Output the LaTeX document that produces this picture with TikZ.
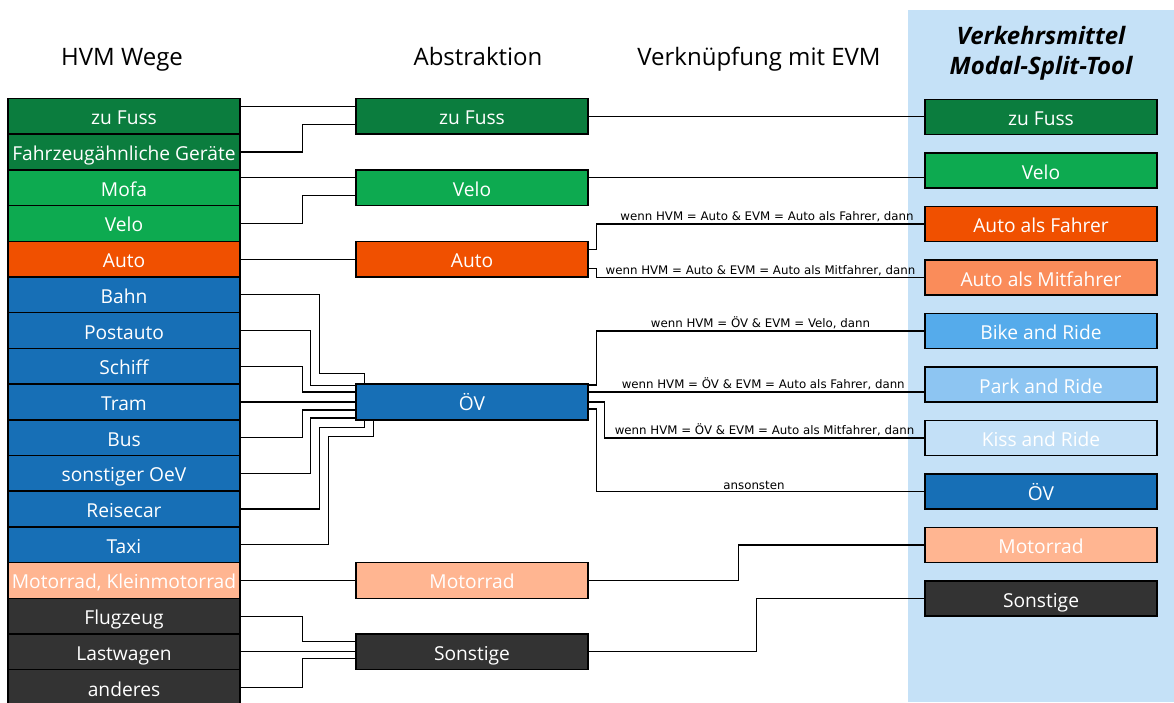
\documentclass[tikz,border=0pt]{standalone}
\usepackage{fontspec}
\setmainfont{Open Sans}
\newfontfamily\condfont{DejaVu Sans}
\usetikzlibrary{calc}
\definecolor{fussgr}{HTML}{0B7D3E}
\definecolor{velogr}{HTML}{0DAA50}
\definecolor{autoor}{HTML}{F05000}
\definecolor{mitfor}{HTML}{FA8C5A}
\definecolor{oevbl}{HTML}{176FB6}
\definecolor{bikebl}{HTML}{55ABEB}
\definecolor{parkbl}{HTML}{8DC5F2}
\definecolor{kissbl}{HTML}{C3E0F7}
\definecolor{motorr}{HTML}{FFB591}
\definecolor{sonstgr}{HTML}{333333}
\definecolor{panel}{HTML}{C5E1F7}
\tikzset{box/.style={draw,line width=1.5pt,minimum width=232pt,minimum height=35.7pt,inner sep=0pt,text=white,text height=17pt,text depth=0pt,font=\fontsize{19.2}{22}\selectfont},
         evm/.style={box,minimum height=35pt},
         head/.style={anchor=base,font=\fontsize{24}{28}\selectfont},
         title/.style={font=\fontsize{24}{30}\selectfont\bfseries\itshape,align=center},
         cond/.style={above,inner sep=1.5pt,font=\condfont\fontsize{11.8}{13}\selectfont},
         link/.style={line width=1.2pt},
        }

\begin{document}
\begin{tikzpicture}[x=1pt,y=-1pt]
        \useasboundingbox(0,0)rectangle(1174,702);
        \fill[panel](908,10)rectangle(1174,702);

        \node[head](t1)at(122,65.5){HVM Wege};
        \node[head](t2)at(478,65.5){Abstraktion};
        \node[head](t3)at(759,65.5){Verknüpfung mit EVM};
        \node[title](t4)at(1041,53){Verkehrsmittel\\Modal-Split-Tool};

        \node[box,fill=fussgr](h0)at(124,116.3){zu Fuss};
        \node[box,fill=fussgr](h1)at(124,152.0){Fahrzeugähnliche Geräte};
        \node[box,fill=velogr](h2)at(124,187.7){Mofa};
        \node[box,fill=velogr](h3)at(124,223.4){Velo};
        \node[box,fill=autoor](h4)at(124,259.1){Auto};
        \node[box,fill=oevbl](h5)at(124,294.8){Bahn};
        \node[box,fill=oevbl](h6)at(124,330.5){Postauto};
        \node[box,fill=oevbl](h7)at(124,366.2){Schiff};
        \node[box,fill=oevbl](h8)at(124,401.9){Tram};
        \node[box,fill=oevbl](h9)at(124,437.6){Bus};
        \node[box,fill=oevbl](h10)at(124,473.3){sonstiger OeV};
        \node[box,fill=oevbl](h11)at(124,509.0){Reisecar};
        \node[box,fill=oevbl](h12)at(124,544.7){Taxi};
        \node[box,fill=motorr](h13)at(124,580.4){Motorrad, Kleinmotorrad};
        \node[box,fill=sonstgr](h14)at(124,616.1){Flugzeug};
        \node[box,fill=sonstgr](h15)at(124,651.8){Lastwagen};
        \node[box,fill=sonstgr](h16)at(124,687.5){anderes};

        \node[box,fill=fussgr](a1)at(472,116.3){zu Fuss};
        \node[box,fill=velogr](a2)at(472,187.7){Velo};
        \node[box,fill=autoor](a3)at(472,259.1){Auto};
        \node[box,fill=oevbl](a4)at(472,401.9){ÖV};
        \node[box,fill=motorr](a5)at(472,580.4){Motorrad};
        \node[box,fill=sonstgr](a6)at(472,651.8){Sonstige};

        \node[evm,fill=fussgr](m1)at(1041,117){zu Fuss};
        \node[evm,fill=velogr](m2)at(1041,170.5){Velo};
        \node[evm,fill=autoor](m3)at(1041,224){Auto als Fahrer};
        \node[evm,fill=mitfor](m4)at(1041,277.5){Auto als Mitfahrer};
        \node[evm,fill=bikebl](m5)at(1041,331){Bike and Ride};
        \node[evm,fill=parkbl](m6)at(1041,384.5){Park and Ride};
        \node[evm,fill=kissbl](m7)at(1041,438){Kiss and Ride};
        \node[evm,fill=oevbl](m8)at(1041,491.5){ÖV};
        \node[evm,fill=motorr](m9)at(1041,545){Motorrad};
        \node[evm,fill=sonstgr](m10)at(1041,598.5){Sonstige};

        \draw[link]([yshift=10pt]h0.east)--([yshift=10pt]a1.west);
        \draw[link](h1.east)--++(62,0)|-([yshift=-8pt]a1.west);
        \draw[link]([yshift=10pt]h2.east)--([yshift=10pt]a2.west);
        \draw[link](h3.east)--++(62,0)|-([yshift=-8pt]a2.west);
        \draw[link](h4.east)--(a3.west);

        \draw[link](h5.east)-|([xshift=-36pt,yshift=10pt]a4.north west)-|([xshift=9pt]a4.north west);
        \draw[link](h6.east)-|([xshift=-45pt,yshift=-2.5pt]a4.north west)--([yshift=-2.5pt]a4.north west);
        \draw[link](h7.east)--++(62,0)|-([yshift=10pt]a4.west);
        \draw[link](h8.east)--(a4.west);
        \draw[link](h9.east)--++(62,0)|-([yshift=-8pt]a4.west);
        \draw[link](h10.east)-|([xshift=-45pt,yshift=2.5pt]a4.south west)--([yshift=2.5pt]a4.south west);
        \draw[link](h11.east)-|([xshift=-36pt,yshift=-7pt]a4.south west)-|([xshift=9pt]a4.south west);
        \draw[link](h12.east)-|([xshift=-27pt,yshift=-16pt]a4.south west)-|([xshift=18pt]a4.south west);

        \draw[link](h13.east)--(a5.west);
        \draw[link](h14.east)--++(62,0)|-([yshift=10pt]a6.west);
        \draw[link](h15.east)--(a6.west);
        \draw[link](h16.east)--++(62,0)|-([yshift=-7pt]a6.west);

        \draw[link](a1.east)--(a1.east-|m1.west);
        \draw[link]([yshift=10pt]a2.east)--([yshift=10pt]a2.east-|m2.west);
        \draw[link]([yshift=10pt]a3.east)--++(8,0)|-(m3.west)node[cond,pos=0.76]{wenn HVM = Auto \& EVM = Auto als Fahrer, dann};
        \draw[link]([yshift=-9pt]a3.east)--++(8,0)|-(m4.west)node[cond,pos=0.75]{wenn HVM = Auto \& EVM = Auto als Mitfahrer, dann};
        \draw[link]([yshift=17pt]a4.east)--++(8,0)|-(m5.west)node[cond,pos=0.75]{wenn HVM = ÖV \& EVM = Velo, dann};
        \draw[link]([yshift=10pt]a4.east)--([yshift=10pt]a4.east-|m6.west)node[cond,pos=0.52]{wenn HVM = ÖV \& EVM = Auto als Fahrer, dann};
        \draw[link](a4.east)--++(16,0)|-(m7.west)node[cond,pos=0.75]{wenn HVM = ÖV \& EVM = Auto als Mitfahrer, dann};
        \draw[link]([yshift=-7pt]a4.east)--++(8,0)|-(m8.west)node[cond,pos=0.74]{ansonsten};
        \draw[link](a5.east)--++(150,0)|-(m9.west);
        \draw[link](a6.east)--++(168,0)|-(m10.west);
    \end{tikzpicture}
\end{document}
